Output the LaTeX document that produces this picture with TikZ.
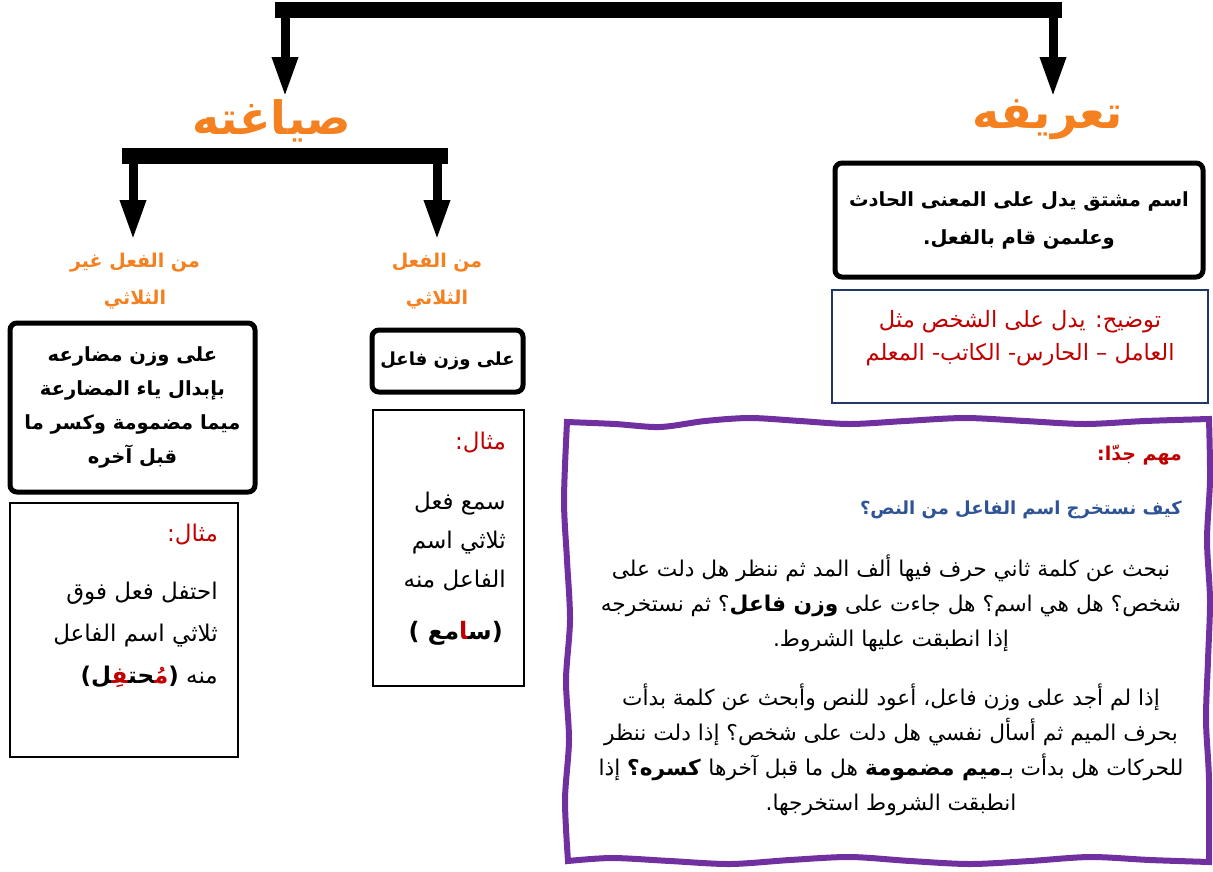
\documentclass[tikz,border=0pt]{standalone}
\usepackage{fontspec}
\usepackage{tikz}
\usetikzlibrary{arrows.meta}
\TeXXeTstate=1
\newfontfamily\arabicfont[Script=Arabic]{DejaVu Sans}
\newfontfamily\arabicred[Script=Arabic,Color=C00000]{DejaVu Sans}
\newcommand{\rl}[1]{\beginR #1\endR}
\newcommand{\zj}{^^^^200d}
\definecolor{headorange}{RGB}{245,128,32}
\definecolor{notered}{RGB}{192,0,0}
\definecolor{askblue}{RGB}{47,84,150}
\definecolor{noteblue}{RGB}{31,56,100}
\definecolor{wavepurple}{RGB}{112,48,160}

\begin{document}
\begin{tikzpicture}[x=1pt,y=-1pt,
    bar/.style={line width=16pt},
    drop/.style={line width=9pt,-{Triangle[length=40pt,width=24pt]}},
    head/.style={text=headorange,inner sep=1pt,font=\arabicfont\bfseries\fontsize{46}{50}\selectfont},
    branch/.style={text=headorange,align=center,inner sep=1pt,font=\arabicfont\bfseries\fontsize{19}{37}\selectfont},
    blackbox/.style={draw,line width=5pt,rounded corners=7pt,align=center,inner sep=0pt,
        font=\arabicfont\bfseries\fontsize{19.5}{34}\selectfont},
    thinbox/.style={draw,line width=2pt,inner sep=0pt},
    plain/.style={align=right,inner sep=0pt,font=\arabicfont\fontsize{23}{42}\selectfont},
    wave/.style={wavepurple,line width=6pt,line join=miter}]
    \useasboundingbox (0,0) rectangle (1213,871);

    % top level
    \coordinate (t1) at (275,10);
    \coordinate (t2) at (1062,10);
    \draw[bar] (t1) -- (t2);
    \node[head,anchor=north] (sigha) at (272,98) {\rl{صياغته}};
    \node[head,anchor=north] (tarif) at (1048,98) {\rl{تعريفه}};
    \draw[drop] (285,10) -- (285,97);
    \draw[drop] (1053,10) -- (1053,97);

    % definition
    \node[blackbox,minimum width=368,minimum height=114,font=\arabicfont\bfseries\fontsize{19.5}{38}\selectfont] (def) at (1019,220)
        {\rl{اسم مشتق يدل على المعنى الحادث}\\ \rl{وعلىمن قام بالفعل.}};
    \node[draw=noteblue,line width=2pt,minimum width=376,minimum height=113] (defnote) at (1020,346.5) {};
    \node[align=center,text=notered,font=\arabicfont\fontsize{22.5}{33}\selectfont] (defnotetxt) at (1020,338)
        {\rl{توضيح: يدل على الشخص مثل}\\ \rl{العامل – الحارس- الكاتب- المعلم}};

    % second level
    \coordinate (s1) at (122,156);
    \coordinate (s2) at (448,156);
    \draw[bar] (s1) -- (s2);
    \node[branch] (nontri) at (135,281) {\rl{من الفعل غير}\\ \rl{الثلاثي}};
    \node[branch] (tri) at (437,281) {\rl{من الفعل}\\ \rl{الثلاثي}};
    \draw[drop] (133,156) -- (133,240);
    \draw[drop] (437,156) -- (437,240);

    \node[blackbox,minimum width=245,minimum height=169] (nontribox) at (132.5,407.5)
        {\rl{على وزن مضارعه}\\ \rl{بإبدال ياء المضارعة}\\ \rl{ميما مضمومة وكسر ما}\\ \rl{قبل آخره}};
    \node[blackbox,minimum width=151,minimum height=62,font=\arabicfont\bfseries\fontsize{18}{34}\selectfont] (tribox) at (447.5,361) {\rl{على وزن فاعل}};

    % examples
    \node[thinbox,minimum width=228,minimum height=254] (nontriex) at (124,630) {};
    \node[plain,text=notered,anchor=east] (nontrilbl) at (218,535) {\rl{مثال:}};
    \node[plain,anchor=east] (nontritxt) at (218,635)
        {\rl{احتفل فعل فوق}\\ \rl{ثلاثي اسم الفاعل}\\
         \rl{منه \textbf{({\arabicred مُ\zj}\zj حت\zj{\arabicred\zj فِ\zj}\zj ل)}}};

    \node[thinbox,minimum width=151,minimum height=276] (triex) at (448.5,548) {};
    \node[plain,text=notered,anchor=east] (trilbl) at (506,443) {\rl{مثال:}};
    \node[plain,anchor=east,font=\arabicfont\fontsize{23}{39}\selectfont] (tritxt) at (506,542)
        {\rl{سمع فعل}\\ \rl{ثلاثي اسم}\\ \rl{الفاعل منه}};
    \node[plain,anchor=east,font=\arabicfont\bfseries\fontsize{24}{30}\selectfont] (triword) at (503,633)
        {\rl{(س\zj{\arabicred\zj ا}مع )}};

    % important note
    \draw[wave] plot[smooth,tension=0.5] coordinates {(567,422) (615,424) (660,427) (705,421)
            (750,418) (800,421) (850,424) (905,421) (965,418) (1025,421) (1085,424) (1145,421) (1209,419)}
        -- plot[smooth,tension=0.5] coordinates {(1209,419) (1210,480) (1207,540) (1210,600)
            (1208,660) (1206,720) (1209,780) (1209,862)}
        -- plot[smooth,tension=0.5] coordinates {(1209,862) (1150,860) (1090,857) (1030,861)
            (970,864) (910,861) (850,857) (790,860) (730,864) (670,861) (612,858) (568,861)}
        -- plot[smooth,tension=0.5] coordinates {(568,861) (565,800) (569,740) (566,680)
            (570,620) (567,560) (564,500) (567,422)} -- cycle;
    \node[plain,anchor=east,text=notered,font=\arabicfont\bfseries\fontsize{19}{30}\selectfont] (imp) at (1182,455) {\rl{مهم جدّا:}};
    \node[plain,anchor=east,text=askblue,font=\arabicfont\bfseries\fontsize{18}{30}\selectfont] (ask) at (1182,510)
        {\rl{كيف نستخرج اسم الفاعل من النص؟}};
    \node[align=center,inner sep=0pt,font=\arabicfont\fontsize{21.7}{35}\selectfont] (step1) at (891,603)
        {\rl{نبحث عن كلمة ثاني حرف فيها ألف المد ثم ننظر هل دلت على}\\
         \rl{شخص؟ هل هي اسم؟ هل جاءت على \textbf{وزن فاعل}؟ ثم نستخرجه}\\
         \rl{إذا انطبقت عليها الشروط.}};
    \node[align=center,inner sep=0pt,font=\arabicfont\fontsize{21.7}{35}\selectfont] (step2) at (891,750)
        {\rl{إذا لم أجد على وزن فاعل، أعود للنص وأبحث عن كلمة بدأت}\\
         \rl{بحرف الميم ثم أسأل نفسي هل دلت على شخص؟ إذا دلت ننظر}\\
         \rl{للحركات هل بدأت بـ\textbf{ميم مضمومة} هل ما قبل آخرها \textbf{كسره؟} إذا}\\
         \rl{انطبقت الشروط استخرجها.}};
\end{tikzpicture}
\end{document}
